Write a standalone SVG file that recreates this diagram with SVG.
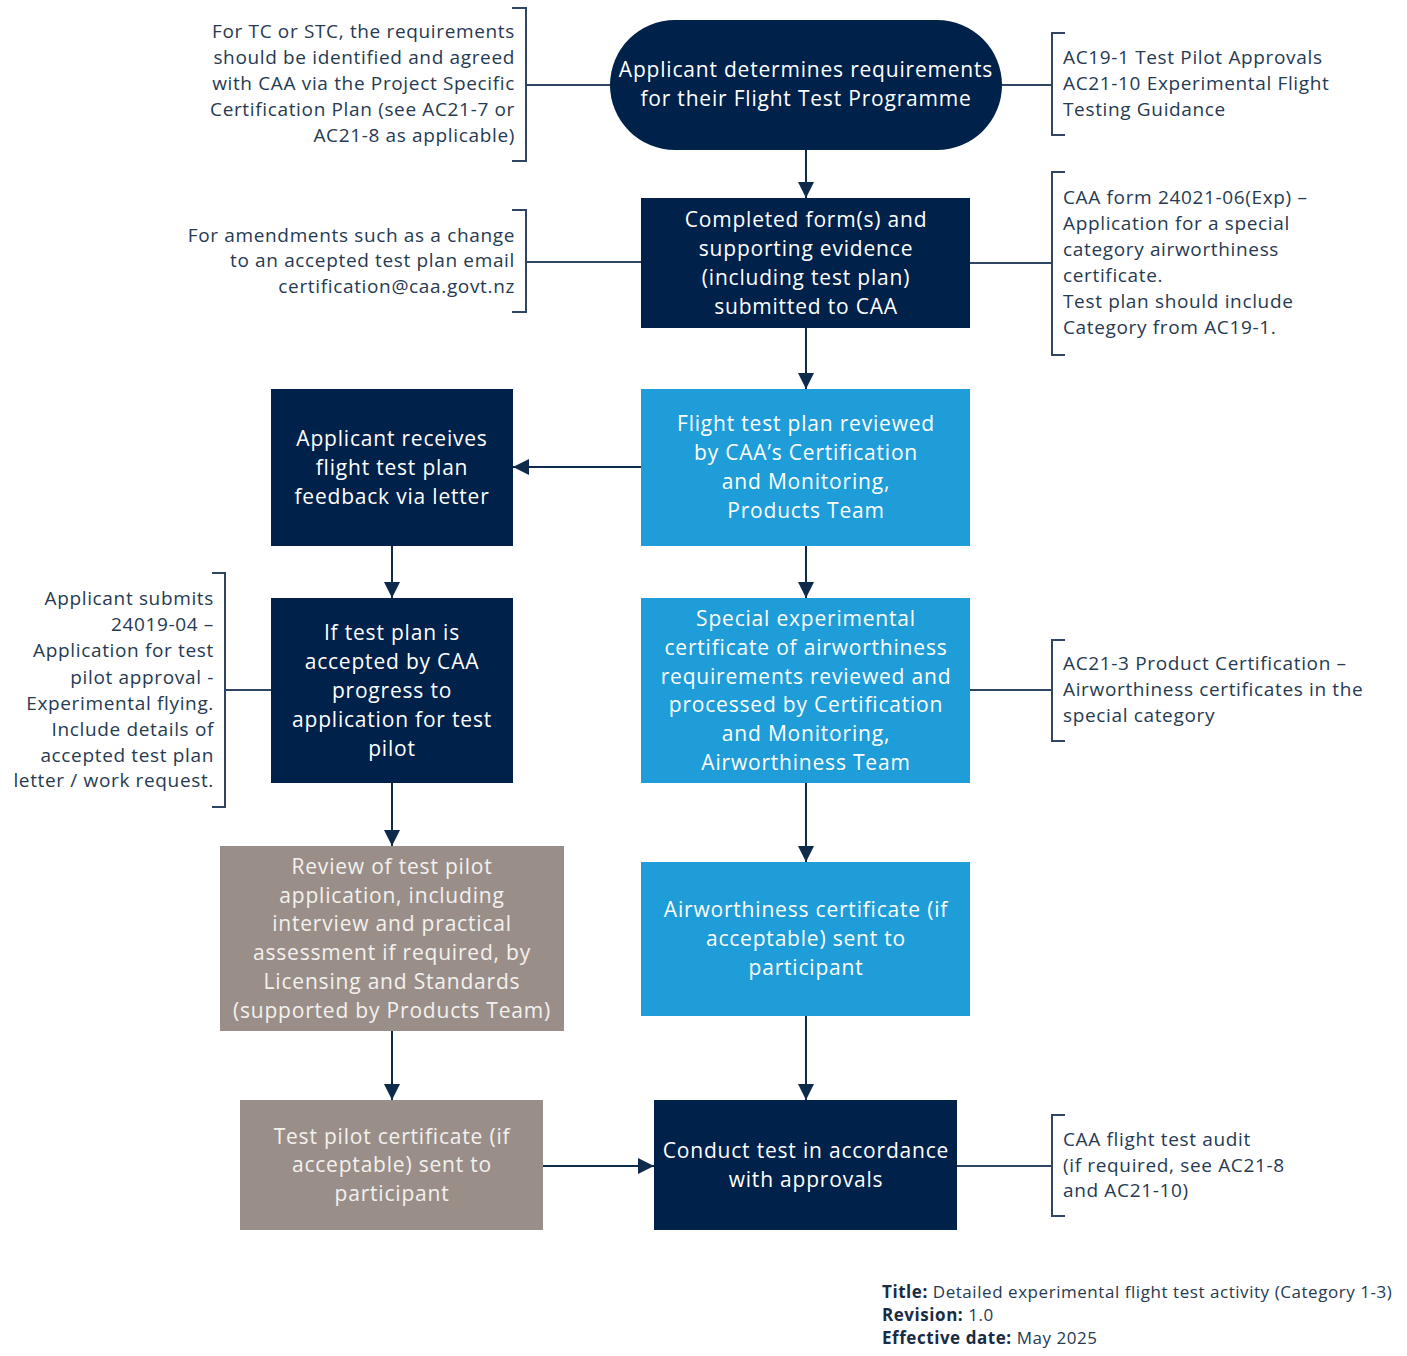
<svg xmlns="http://www.w3.org/2000/svg" width="1407" height="1356" viewBox="0 0 1407 1356">
<defs>
<style>
.navy{fill:#00214a}
.blue{fill:#1e9dd9}
.grey{fill:#9a8f88}
.nt{font-family:"Open Sans","Noto Sans",sans-serif;font-size:21px;letter-spacing:0.8px;fill:#ffffff;text-anchor:middle}
.gt{font-family:"Open Sans","Noto Sans",sans-serif;font-size:21px;letter-spacing:0.8px;fill:#f3f1ef;text-anchor:middle}
.at{font-family:"Open Sans","Noto Sans",sans-serif;font-size:19px;letter-spacing:0.65px;fill:#263a52}
.ar{text-anchor:end}
.ft{font-family:"Open Sans","Noto Sans",sans-serif;font-size:17px;letter-spacing:0.55px;fill:#263a52}
.ft .b{font-weight:bold;fill:#1a2c45}
.ln{stroke:#0f2b4c;stroke-width:2;fill:none}
.br{stroke:#2f4563;stroke-width:2;fill:none}
</style>
<marker id="ah2" viewBox="0 0 10 10" refX="10" refY="5" markerWidth="16" markerHeight="16" markerUnits="userSpaceOnUse" orient="auto">
<path d="M0,0 L10,5 L0,10 Z" fill="#0f2b4c"/>
</marker>
</defs>
<rect width="1407" height="1356" fill="#ffffff"/>

<g id="connectors">
<line class="ln" x1="806" y1="150" x2="806" y2="198" marker-end="url(#ah2)"/>
<line class="ln" x1="806" y1="328" x2="806" y2="389" marker-end="url(#ah2)"/>
<line class="ln" x1="641" y1="467" x2="513" y2="467" marker-end="url(#ah2)"/>
<line class="ln" x1="806" y1="546" x2="806" y2="598" marker-end="url(#ah2)"/>
<line class="ln" x1="392" y1="546" x2="392" y2="598" marker-end="url(#ah2)"/>
<line class="ln" x1="392" y1="783" x2="392" y2="846" marker-end="url(#ah2)"/>
<line class="ln" x1="806" y1="783" x2="806" y2="862" marker-end="url(#ah2)"/>
<line class="ln" x1="392" y1="1031" x2="392" y2="1100" marker-end="url(#ah2)"/>
<line class="ln" x1="806" y1="1016" x2="806" y2="1100" marker-end="url(#ah2)"/>
<line class="ln" x1="543" y1="1166" x2="654" y2="1166" marker-end="url(#ah2)"/>
<line class="br" x1="526" y1="85" x2="610" y2="85"/>
<line class="br" x1="526" y1="262" x2="641" y2="262"/>
<line class="br" x1="225" y1="690" x2="271" y2="690"/>
<line class="br" x1="1002" y1="85" x2="1052" y2="85"/>
<line class="br" x1="970" y1="263" x2="1052" y2="263"/>
<line class="br" x1="970" y1="690" x2="1052" y2="690"/>
<line class="br" x1="957" y1="1166" x2="1052" y2="1166"/>
</g>

<g id="node-start">
<rect class="navy" x="610" y="20" width="392" height="130" rx="65" ry="65"/>
<text class="nt" x="806" y="77">Applicant determines requirements</text>
<text class="nt" x="806" y="106">for their Flight Test Programme</text>
</g>

<g id="node-submit">
<rect class="navy" x="641" y="198" width="329" height="130"/>
<text class="nt" x="806" y="227">Completed form(s) and</text>
<text class="nt" x="806" y="256">supporting evidence</text>
<text class="nt" x="806" y="285">(including test plan)</text>
<text class="nt" x="806" y="314">submitted to CAA</text>
</g>

<g id="node-review">
<rect class="blue" x="641" y="389" width="329" height="157"/>
<text class="nt" x="806" y="431">Flight test plan reviewed</text>
<text class="nt" x="806" y="460">by CAA’s Certification</text>
<text class="nt" x="806" y="489">and Monitoring,</text>
<text class="nt" x="806" y="518">Products Team</text>
</g>

<g id="node-feedback">
<rect class="navy" x="271" y="389" width="242" height="157"/>
<text class="nt" x="392" y="446">Applicant receives</text>
<text class="nt" x="392" y="475">flight test plan</text>
<text class="nt" x="392" y="504">feedback via letter</text>
</g>

<g id="node-accepted">
<rect class="navy" x="271" y="598" width="242" height="185"/>
<text class="nt" x="392" y="640">If test plan is</text>
<text class="nt" x="392" y="669">accepted by CAA</text>
<text class="nt" x="392" y="698">progress to</text>
<text class="nt" x="392" y="727">application for test</text>
<text class="nt" x="392" y="756">pilot</text>
</g>

<g id="node-special">
<rect class="blue" x="641" y="598" width="329" height="185"/>
<text class="nt" x="806" y="626">Special experimental</text>
<text class="nt" x="806" y="655">certificate of airworthiness</text>
<text class="nt" x="806" y="684">requirements reviewed and</text>
<text class="nt" x="806" y="712">processed by Certification</text>
<text class="nt" x="806" y="741">and Monitoring,</text>
<text class="nt" x="806" y="770">Airworthiness Team</text>
</g>

<g id="node-pilot-review">
<rect class="grey" x="220" y="846" width="344" height="185"/>
<text class="gt" x="392" y="874">Review of test pilot</text>
<text class="gt" x="392" y="903">application, including</text>
<text class="gt" x="392" y="931">interview and practical</text>
<text class="gt" x="392" y="960">assessment if required, by</text>
<text class="gt" x="392" y="989">Licensing and Standards</text>
<text class="gt" x="392" y="1018">(supported by Products Team)</text>
</g>

<g id="node-aw-cert">
<rect class="blue" x="641" y="862" width="329" height="154"/>
<text class="nt" x="806" y="917">Airworthiness certificate (if</text>
<text class="nt" x="806" y="946">acceptable) sent to</text>
<text class="nt" x="806" y="975">participant</text>
</g>

<g id="node-pilot-cert">
<rect class="grey" x="240" y="1100" width="303" height="130"/>
<text class="gt" x="392" y="1144">Test pilot certificate (if</text>
<text class="gt" x="392" y="1172">acceptable) sent to</text>
<text class="gt" x="392" y="1201">participant</text>
</g>

<g id="node-conduct">
<rect class="navy" x="654" y="1100" width="303" height="130"/>
<text class="nt" x="806" y="1158">Conduct test in accordance</text>
<text class="nt" x="806" y="1187">with approvals</text>
</g>

<g id="note-tc-stc">
<path class="br" d="M512,8 H526 V161 H512"/>
<text class="at ar" x="515" y="38">For TC or STC, the requirements</text>
<text class="at ar" x="515" y="64">should be identified and agreed</text>
<text class="at ar" x="515" y="90">with CAA via the Project Specific</text>
<text class="at ar" x="515" y="116">Certification Plan (see AC21-7 or</text>
<text class="at ar" x="515" y="142">AC21-8 as applicable)</text>
</g>

<g id="note-amendments">
<path class="br" d="M512,210 H526 V312 H512"/>
<text class="at ar" x="515" y="242">For amendments such as a change</text>
<text class="at ar" x="515" y="267">to an accepted test plan email</text>
<text class="at ar" x="515" y="293">certification@caa.govt.nz</text>
</g>

<g id="note-pilot-app">
<path class="br" d="M212,573 H225 V807 H212"/>
<text class="at ar" x="214" y="605">Applicant submits</text>
<text class="at ar" x="214" y="631">24019-04 –</text>
<text class="at ar" x="214" y="657">Application for test</text>
<text class="at ar" x="214" y="684">pilot approval -</text>
<text class="at ar" x="214" y="710">Experimental flying.</text>
<text class="at ar" x="214" y="736">Include details of</text>
<text class="at ar" x="214" y="762">accepted test plan</text>
<text class="at ar" x="214" y="787">letter / work request.</text>
</g>

<g id="note-ac19">
<path class="br" d="M1065,33 H1052 V135 H1065"/>
<text class="at" x="1063" y="64">AC19-1 Test Pilot Approvals</text>
<text class="at" x="1063" y="90">AC21-10 Experimental Flight</text>
<text class="at" x="1063" y="116">Testing Guidance</text>
</g>

<g id="note-form">
<path class="br" d="M1065,172 H1052 V355 H1065"/>
<text class="at" x="1063" y="204">CAA form 24021-06(Exp) –</text>
<text class="at" x="1063" y="230">Application for a special</text>
<text class="at" x="1063" y="256">category airworthiness</text>
<text class="at" x="1063" y="282">certificate.</text>
<text class="at" x="1063" y="308">Test plan should include</text>
<text class="at" x="1063" y="334">Category from AC19-1.</text>
</g>

<g id="note-ac21-3">
<path class="br" d="M1065,640 H1052 V741 H1065"/>
<text class="at" x="1063" y="670">AC21-3 Product Certification –</text>
<text class="at" x="1063" y="696">Airworthiness certificates in the</text>
<text class="at" x="1063" y="722">special category</text>
</g>

<g id="note-audit">
<path class="br" d="M1065,1115 H1052 V1216 H1065"/>
<text class="at" x="1063" y="1146">CAA flight test audit</text>
<text class="at" x="1063" y="1172">(if required, see AC21-8</text>
<text class="at" x="1063" y="1197">and AC21-10)</text>
</g>

<g id="footer">
<text class="ft" x="882" y="1298"><tspan class="b">Title:</tspan> Detailed experimental flight test activity (Category 1-3)</text>
<text class="ft" x="882" y="1321"><tspan class="b">Revision:</tspan> 1.0</text>
<text class="ft" x="882" y="1344"><tspan class="b">Effective date:</tspan> May 2025</text>
</g>
</svg>
